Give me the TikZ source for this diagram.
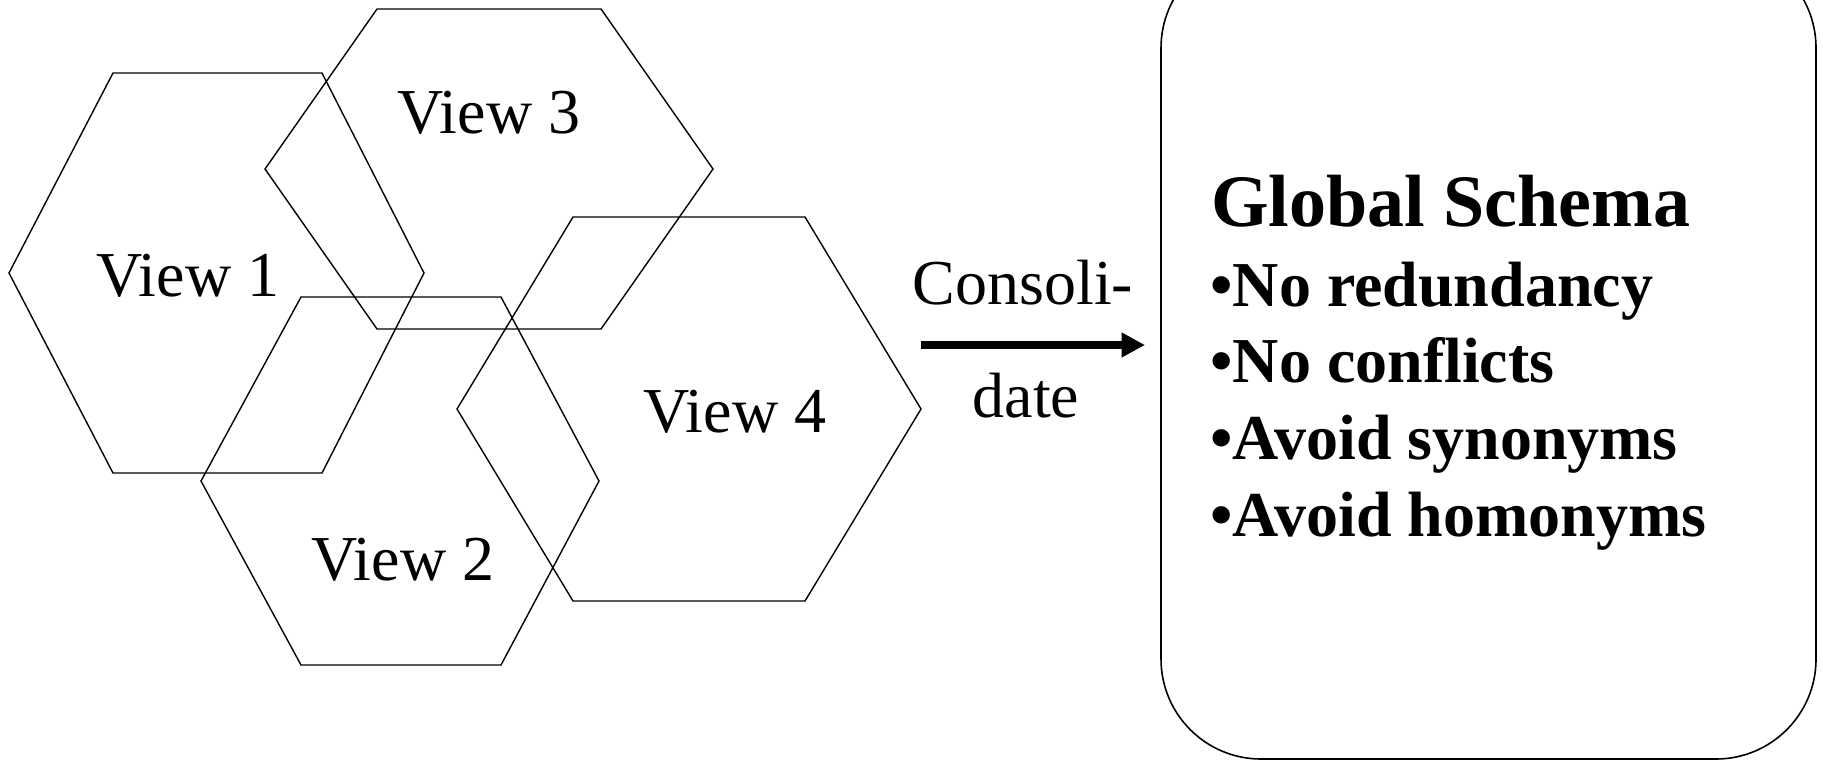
\documentclass[tikz,border=0pt]{standalone}
\usepackage{fontspec}
\setmainfont{Liberation Serif}
\usetikzlibrary{arrows.meta}

\tikzset{
  hexline/.style={draw=black, line width=0.7pt, line join=miter},
  viewlabel/.style={anchor=base, inner sep=0pt, font=\fontsize{32pt}{38pt}\selectfont},
  schemabox/.style={draw=black, line width=0.8pt, rounded corners=50pt, inner sep=0pt},
  titletext/.style={anchor=base west, inner sep=0pt, font=\fontsize{37pt}{44pt}\selectfont\bfseries},
  itemtext/.style={anchor=base west, inner sep=0pt, font=\fontsize{32pt}{38pt}\selectfont\bfseries},
  consarrow/.style={line width=3.85pt, -{Triangle[length=11.7pt,width=11.7pt]}}
}

\begin{document}
\begin{tikzpicture}[x=0.5pt,y=-0.5pt]
  \clip (0,0) rectangle (1823,761);

  % four overlapping views, drawn as hexagons
  \draw[hexline] (9,273) -- (113,73) -- (322,73) -- (424,273) -- (322,473) -- (113,473) -- cycle;
  \draw[hexline] (201,481) -- (301,297) -- (501,297) -- (599,481) -- (501,665) -- (301,665) -- cycle;
  \draw[hexline] (265,169) -- (377,9) -- (601,9) -- (713,169) -- (601,329) -- (377,329) -- cycle;
  \draw[hexline] (457,409) -- (573,217) -- (805,217) -- (921,409) -- (805,601) -- (573,601) -- cycle;

  \node[viewlabel] (v1) at (188,296) {View 1};
  \node[viewlabel] (v2) at (403,580) {View 2};
  \node[viewlabel] (v3) at (489,133) {View 3};
  \node[viewlabel] (v4) at (735,432) {View 4};

  % consolidation step
  \node[viewlabel] (cons) at (1023,304) {Consoli-};
  \node[viewlabel] (date) at (1026,417) {date};
  \coordinate (arrA) at (921,345);
  \coordinate (arrB) at (1145,345);
  \draw[consarrow] (arrA) -- (arrB);

  % global schema box
  \node[schemabox, minimum width=327.5pt, minimum height=405.5pt] (gs) at (1488.5,353.5) {};
  \node[titletext] (title) at (1211,226) {Global Schema};
  \node[itemtext] (i1) at (1210,306) {•No redundancy};
  \node[itemtext] (i2) at (1210,382) {•No conflicts};
  \node[itemtext] (i3) at (1210,459) {•Avoid synonyms};
  \node[itemtext] (i4) at (1210,536) {•Avoid homonyms};
\end{tikzpicture}
\end{document}
